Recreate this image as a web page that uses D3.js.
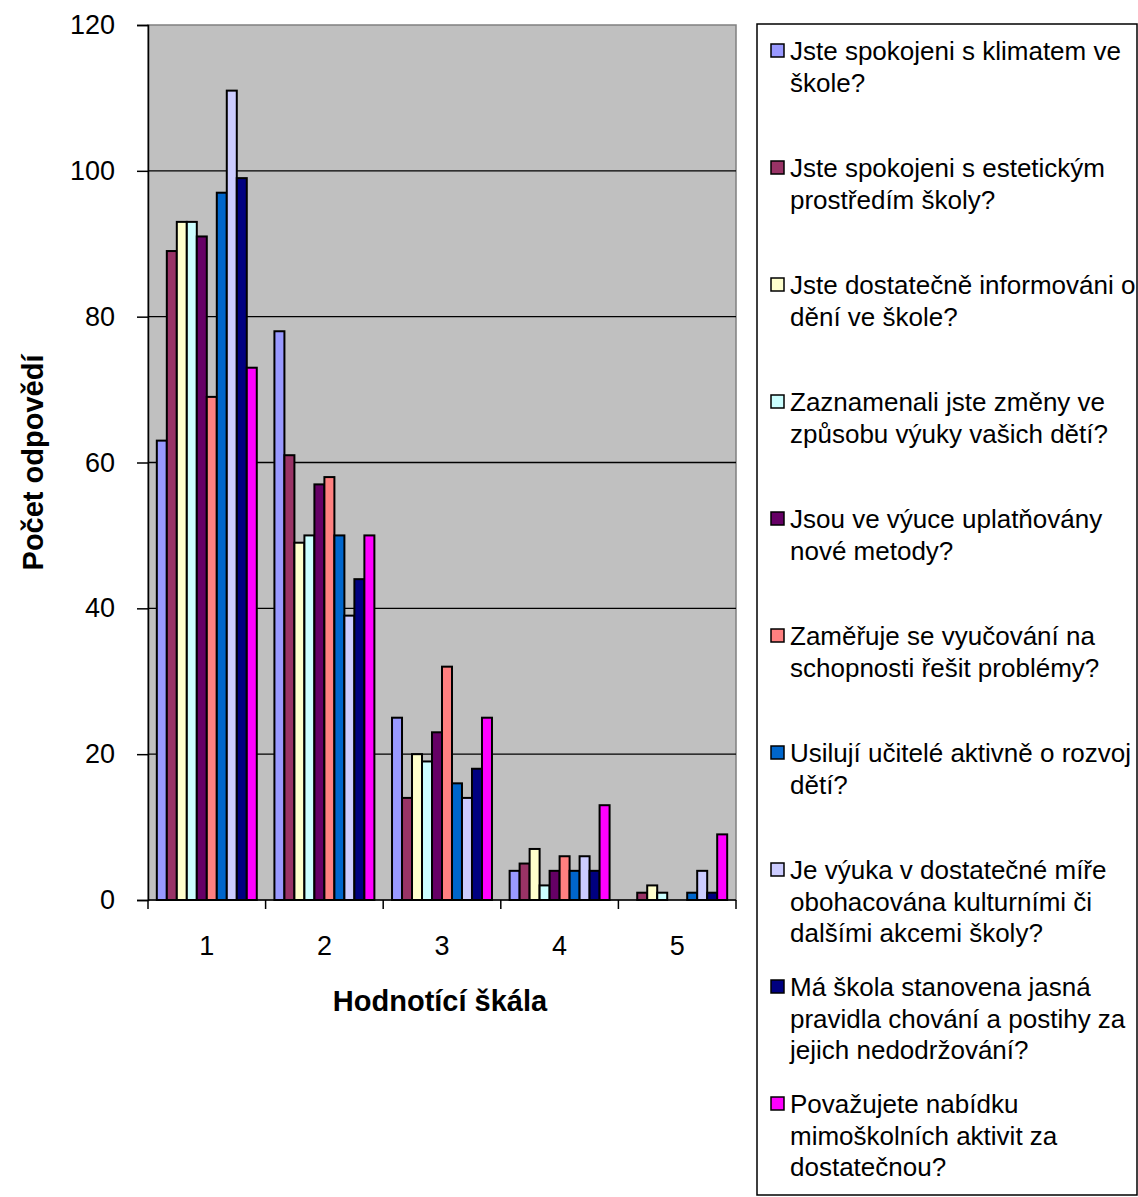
<!DOCTYPE html>
<html>
<head>
<meta charset="utf-8">
<script src="https://cdn.jsdelivr.net/npm/d3@7"></script>
<style>
  body { margin: 0; background: #fff; }
  svg { display: block; font-family: "Liberation Sans", Arial, sans-serif; }
</style>
</head>
<body>
<svg width="1138" height="1197"></svg>
<script>
// categories on the rating scale
const categories = ['1', '2', '3', '4', '5'];

// legend labels, already broken into lines as in the original
const seriesLabels = [
  ['Jste spokojeni s klimatem ve', 'škole?'],
  ['Jste spokojeni s estetickým', 'prostředím školy?'],
  ['Jste dostatečně informováni o', 'dění ve škole?'],
  ['Zaznamenali jste změny ve', 'způsobu výuky vašich dětí?'],
  ['Jsou ve výuce uplatňovány', 'nové metody?'],
  ['Zaměřuje se vyučování na', 'schopnosti řešit problémy?'],
  ['Usilují učitelé aktivně o rozvoj', 'dětí?'],
  ['Je výuka v dostatečné míře', 'obohacována kulturními či', 'dalšími akcemi školy?'],
  ['Má škola stanovena jasná', 'pravidla chování a postihy za', 'jejich nedodržování?'],
  ['Považujete nabídku', 'mimoškolních aktivit za', 'dostatečnou?']
];

// answers per series, one value per category 1..5
const q1 = [63, 78, 25, 4, 0];
const q2 = [89, 61, 14, 5, 1];
const q3 = [93, 49, 20, 7, 2];
const q4 = [93, 50, 19, 2, 1];
const q5 = [91, 57, 23, 4, 0];
const q6 = [69, 58, 32, 6, 0];
const q7 = [97, 50, 16, 4, 1];
const q8 = [111, 39, 14, 6, 4];
const q9 = [99, 44, 18, 4, 1];
const q10 = [73, 50, 25, 13, 9];
const seriesValues = [q1, q2, q3, q4, q5, q6, q7, q8, q9, q10];

const colors = ['#9999FF', '#993366', '#FFFFCC', '#CCFFFF', '#660066',
                '#FF8080', '#0066CC', '#CCCCFF', '#000080', '#FF00FF'];

const yTicks = [0, 20, 40, 60, 80, 100, 120];

const svg = d3.select('svg');

const margin = { top: 25, left: 148, right: 402, bottom: 297 };
const width = +svg.attr('width');
const height = +svg.attr('height');
const innerWidth = width - margin.left - margin.right;
const innerHeight = height - margin.top - margin.bottom;

const xScale = d3.scaleBand()
  .domain(categories)
  .range([0, innerWidth]);

const groupGap = xScale.bandwidth() * 0.15;
const x1 = d3.scaleBand()
  .domain(d3.range(seriesValues.length))
  .range([groupGap / 2, xScale.bandwidth() - groupGap / 2]);

const yScale = d3.scaleLinear()
  .domain([0, 120])
  .range([innerHeight, 0]);

const g = svg.append('g')
  .attr('transform', `translate(${margin.left},${margin.top})`);

// plot background
g.append('rect')
  .attr('width', innerWidth)
  .attr('height', innerHeight)
  .attr('fill', '#C0C0C0')
  .attr('stroke', '#808080')
  .attr('stroke-width', 1.5);

// gridlines
g.selectAll('.grid')
  .data(yTicks.filter(d => d > 0 && d < 120))
  .enter()
  .append('line')
  .attr('x1', 0)
  .attr('x2', innerWidth)
  .attr('y1', d => yScale(d))
  .attr('y2', d => yScale(d))
  .attr('stroke', '#000')
  .attr('stroke-width', 1.3);

// bars
const flat = [];
seriesValues.forEach((vals, s) => {
  vals.forEach((v, c) => flat.push({ s, c: categories[c], v }));
});

g.selectAll('.bar')
  .data(flat.filter(d => d.v > 0))
  .enter()
  .append('rect')
  .attr('x', d => xScale(d.c) + x1(d.s))
  .attr('y', d => yScale(d.v))
  .attr('width', x1.bandwidth())
  .attr('height', d => innerHeight - yScale(d.v))
  .attr('fill', d => colors[d.s])
  .attr('stroke', '#000')
  .attr('stroke-width', 2);

// y axis
const yAxis = d3.axisLeft(yScale)
  .tickValues(yTicks)
  .tickSize(11)
  .tickPadding(22);

const yAxisG = g.append('g').call(yAxis);
yAxisG.select('.domain').attr('stroke', '#000').attr('stroke-width', 1.5);
yAxisG.selectAll('.tick line').attr('stroke-width', 1.5);
yAxisG.selectAll('text')
  .attr('font-size', 27)
  .attr('fill', '#000')
  .attr('font-family', '"Liberation Sans", Arial, sans-serif');

// x axis: ticks on category boundaries
const xAxisG = g.append('g')
  .attr('transform', `translate(0,${innerHeight})`);

xAxisG.append('line')
  .attr('x1', 0).attr('x2', innerWidth)
  .attr('stroke', '#000').attr('stroke-width', 1.5);

xAxisG.selectAll('.xtick')
  .data(categories.concat(['end']))
  .enter()
  .append('line')
  .attr('x1', d => d === 'end' ? innerWidth : xScale(d))
  .attr('x2', d => d === 'end' ? innerWidth : xScale(d))
  .attr('y1', 0)
  .attr('y2', 9)
  .attr('stroke', '#000')
  .attr('stroke-width', 1.5);

xAxisG.selectAll('.xlabel')
  .data(categories)
  .enter()
  .append('text')
  .attr('x', d => xScale(d) + xScale.bandwidth() / 2)
  .attr('y', 46)
  .attr('dy', '0.35em')
  .attr('text-anchor', 'middle')
  .attr('font-size', 27)
  .text(d => d);

// axis titles
g.append('text')
  .text('Hodnotící škála')
  .attr('x', innerWidth / 2 - 2)
  .attr('y', innerHeight + 101)
  .attr('dy', '0.35em')
  .attr('text-anchor', 'middle')
  .attr('font-weight', 'bold')
  .attr('font-size', 29);

g.append('text')
  .text('Počet odpovědí')
  .attr('transform', 'rotate(-90)')
  .attr('x', -innerHeight / 2 + 0)
  .attr('y', -115)
  .attr('dy', '0.35em')
  .attr('text-anchor', 'middle')
  .attr('font-weight', 'bold')
  .attr('font-size', 29);

// legend
const legend = svg.append('g')
  .attr('transform', 'translate(757,24)');

legend.append('rect')
  .attr('width', 380)
  .attr('height', 1171)
  .attr('fill', '#fff')
  .attr('stroke', '#000')
  .attr('stroke-width', 1.5);

const itemStep = 117;
const lineStep = 31.5;

const items = legend.selectAll('.item')
  .data(seriesLabels)
  .enter()
  .append('g')
  .attr('transform', (d, i) => `translate(0,${27 + i * itemStep})`);

items.append('rect')
  .attr('x', 14)
  .attr('y', -7)
  .attr('width', 13)
  .attr('height', 13)
  .attr('fill', (d, i) => colors[i])
  .attr('stroke', '#000')
  .attr('stroke-width', 1.5);

items.append('text')
  .attr('font-size', 26)
  .selectAll('tspan')
  .data(d => d)
  .enter()
  .append('tspan')
  .attr('x', 33)
  .attr('y', (d, j) => j * lineStep)
  .attr('dy', '0.35em')
  .text(d => d);
</script>
</body>
</html>
